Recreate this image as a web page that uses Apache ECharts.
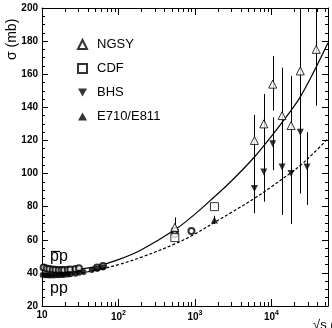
<!DOCTYPE html>
<html><head><meta charset="utf-8">
<script src="https://cdn.jsdelivr.net/npm/echarts@6/dist/echarts.min.js"></script>
<style>html,body{margin:0;padding:0;background:#fff}#c{width:332px;height:328px}</style>
</head><body><div id="c"></div>
<script>
// ---- data (sqrt(s) in GeV, sigma in mb) ----
const xMinorTicks = [20,30,40,50,60,70,80,90,200,300,400,500,600,700,800,900,2000,3000,4000,5000,6000,7000,8000,9000,20000,30000,40000,50000];

const curveS      = [10, 15, 20, 30, 50, 100, 200, 546, 1000, 1800, 3000, 6000, 10000, 18000, 24000, 35000, 55000];
const ppbarCurve  = [43.5, 42.3, 41.9, 42.3, 43.8, 48, 54, 66, 75.5, 86, 95.5, 110, 122.5, 138, 146.5, 160.5, 179];
const ppCurve     = [38.2, 38.4, 38.8, 39.7, 41.6, 45, 49.5, 57.5, 63.5, 70.5, 76.5, 85, 92, 100.5, 105, 112, 121];

const ngsyS     = [546, 6000, 7960, 10400, 13800, 18100, 23900, 38600];
const ngsySigma = [67.5, 120, 130, 154, 135, 129, 162, 175];
const ngsyLo    = [61, 105, 115, 138, 105, 100, 125, 141];
const ngsyHi    = [73.5, 135.4, 148, 171, 164, 159, 210, 210];

const bhsS      = [6000, 7960, 10400, 13800, 18100, 23900, 29200];
const bhsSigma  = [91, 101, 118, 104, 100, 125, 104];
const bhsLo     = [76, 83, 102, 75, 69.5, 88, 81];
const bhsHi     = [106, 116, 134, 120, 115, 140, 125];

const cdfS      = [546, 1800];
const cdfSigma  = [61.3, 80.0];

const e710S     = [1800];
const e710Sigma = [72];
const e710Lo    = [69.5];
const e710Hi    = [74.5];

const ppbarLowS     = [10.5, 11.5, 12.5, 13.8, 15, 16.5, 18, 19.4, 21.7, 23.5, 27.4, 30.4, 52.6, 62.7, 546, 546, 900];
const ppbarLowSigma = [43.2, 42.6, 42.3, 42.0, 41.9, 41.8, 41.8, 41.8, 41.9, 42.1, 42.3, 42.8, 43.3, 44.1, 65.5, 63.3, 65.3];

const ppLowS     = [10.2, 11, 11.8, 12.5, 13.8, 15, 16.5, 18, 19.4, 21.7, 23.5, 27.4, 30.6, 35, 44.7, 52.8, 62.5];
const ppLowSigma = [38.8, 38.6, 38.5, 38.4, 38.4, 38.5, 38.6, 38.7, 38.8, 39.0, 39.2, 39.5, 40.1, 40.5, 41.7, 42.5, 43.3];

const legendNames = ['NGSY', 'CDF', 'BHS', 'E710/E811'];

// ---- chart ----
const FONT = 'Liberation Sans';
const zip = (a, b) => a.map((v, i) => [v, b[i]]);
const errData = (s, lo, hi) => s.map((v, i) => [v, lo[i], hi[i]]);

function errRender(params, api) {
  const cs = params.coordSys;
  const p1 = api.coord([api.value(0), api.value(1)]);
  const p2 = api.coord([api.value(0), api.value(2)]);
  const top = Math.max(cs.y, Math.min(p1[1], p2[1]));
  const bot = Math.min(cs.y + cs.height, Math.max(p1[1], p2[1]));
  const x = Math.round(p1[0]) + 0.5;
  return { type: 'line', shape: { x1: x, y1: top, x2: x, y2: bot },
           style: { stroke: '#000', lineWidth: 1 } };
}
function minorTickRender(params, api) {
  const cs = params.coordSys;
  const p = api.coord([api.value(0), 100]);
  const x = Math.round(p[0]) + 0.5;
  const yb = cs.y + cs.height, yt = cs.y;
  return { type: 'group', children: [
    { type: 'line', shape: { x1: x, y1: yb, x2: x, y2: yb - 4 }, style: { stroke: '#000', lineWidth: 1 } },
    { type: 'line', shape: { x1: x, y1: yt, x2: x, y2: yt + 4 }, style: { stroke: '#000', lineWidth: 1 } }
  ]};
}

const chart = echarts.init(document.getElementById('c'), null, { renderer: 'canvas' });
const axLine = { show: true, lineStyle: { color: '#000', width: 1 } };
const xBase = { type: 'log', logBase: 10, min: 10, max: 55000, interval: 1, splitLine: { show: false }, axisLine: axLine };
const yBase = { type: 'value', min: 20, max: 200, interval: 20, splitLine: { show: false }, axisLine: axLine,
  minorTick: { show: true, splitNumber: 4, length: 3, lineStyle: { color: '#000' } } };

chart.setOption({
  animation: false,
  textStyle: { fontFamily: FONT },
  grid: { left: 42, right: 4, top: 8, bottom: 22 },
  legend: {
    data: [
      { name: 'NGSY' }, { name: 'CDF' },
      { name: 'BHS', icon: 'path://M0,0L10,0L5,9Z' },
      { name: 'E710/E811', icon: 'path://M5,0L10,9L0,9Z' }
    ],
    orient: 'vertical', left: 72, top: 33,
    itemWidth: 9, itemHeight: 9, itemGap: 11,
    textStyle: { fontFamily: FONT, fontSize: 13, color: '#000', padding: [0, 0, 0, 5] },
    inactiveColor: '#000'
  },
  xAxis: [
    Object.assign({}, xBase, { position: 'bottom',
      axisTick: { show: true, inside: true, length: 7, lineStyle: { color: '#000' } },
      axisLabel: { color: '#000', fontSize: 10, fontWeight: 'bold', margin: 4, showMaxLabel: false,
        formatter: v => { const e = Math.round(Math.log10(v)); return e === 1 ? '10' : '10{s|' + e + '}'; },
        rich: { s: { fontSize: 7, fontWeight: 'bold', padding: [0, 0, 7, 0], color: '#000' } } } }),
    Object.assign({}, xBase, { position: 'top',
      axisTick: { show: true, inside: true, length: 7, lineStyle: { color: '#000' } },
      axisLabel: { show: false } })
  ],
  yAxis: [
    Object.assign({}, yBase, { position: 'left',
      axisTick: { show: true, inside: true, length: 6, lineStyle: { color: '#000' } },
      axisLabel: { color: '#000', fontSize: 10, fontWeight: 'bold', margin: 4 } }),
    Object.assign({}, yBase, { position: 'right',
      axisTick: { show: true, inside: true, length: 6, lineStyle: { color: '#000' } },
      axisLabel: { show: false } })
  ],
  graphic: [
    { type: 'text', x: 12, y: 60, rotation: Math.PI / 2,
      style: { text: '\u03C3 (mb)', font: '14px "Liberation Sans"', fill: '#000', align: 'left', verticalAlign: 'middle' } },
    { type: 'text', left: 50, top: 249, style: { text: 'pp', font: '16px "Liberation Sans"', fill: '#000' } },
    { type: 'line', shape: { x1: 51, y1: 251.5, x2: 60, y2: 251.5 }, style: { stroke: '#000', lineWidth: 1.3 }, z: 10 },
    { type: 'text', left: 50, top: 281, style: { text: 'pp', font: '16px "Liberation Sans"', fill: '#000' } },
    { type: 'text', left: 313, top: 319, style: { text: '\u221As (GeV)', font: '13px "Liberation Sans"', fill: '#000' } }
  ],
  series: [
    { type: 'custom', renderItem: minorTickRender, data: xMinorTicks.map(v => [v]), silent: true, z: 1 },
    { type: 'line', data: zip(curveS, ppbarCurve), smooth: 0.4, showSymbol: false, symbol: 'none',
      lineStyle: { color: '#000', width: 1.2 }, silent: true, z: 2 },
    { type: 'line', data: zip(curveS, ppCurve), smooth: 0.4, showSymbol: false, symbol: 'none',
      lineStyle: { color: '#000', width: 1.2, type: [3, 2] }, silent: true, z: 2 },
    { type: 'custom', renderItem: errRender, data: errData(ngsyS, ngsyLo, ngsyHi), z: 3, silent: true },
    { type: 'custom', renderItem: errRender, data: errData(bhsS, bhsLo, bhsHi), z: 3, silent: true },
    { type: 'custom', renderItem: errRender, data: errData(e710S, e710Lo, e710Hi), z: 3, silent: true },
    { type: 'scatter', data: zip(ppbarLowS, ppbarLowSigma), symbol: 'emptyCircle', symbolSize: 6,
      itemStyle: { color: '#000', borderWidth: 1 }, z: 4 },
    { type: 'scatter', data: zip(ppLowS, ppLowSigma), symbol: 'circle', symbolSize: 6,
      itemStyle: { color: '#000' }, z: 4 },
    { name: 'NGSY', type: 'scatter', data: zip(ngsyS, ngsySigma), symbol: 'triangle', symbolSize: 8,
      itemStyle: { color: '#fff', borderColor: '#000', borderWidth: 1 }, z: 5 },
    { name: 'CDF', type: 'scatter', data: zip(cdfS, cdfSigma), symbol: 'rect', symbolSize: 8,
      itemStyle: { color: '#fff', borderColor: '#000', borderWidth: 1 }, z: 5 },
    { name: 'BHS', type: 'scatter', data: zip(bhsS, bhsSigma), symbol: 'triangle', symbolRotate: 180, symbolSize: 7,
      itemStyle: { color: '#000' }, z: 5 },
    { name: 'E710/E811', type: 'scatter', data: zip(e710S, e710Sigma), symbol: 'triangle', symbolSize: 7,
      itemStyle: { color: '#000' }, z: 5 }
  ]
});
</script></body></html>
